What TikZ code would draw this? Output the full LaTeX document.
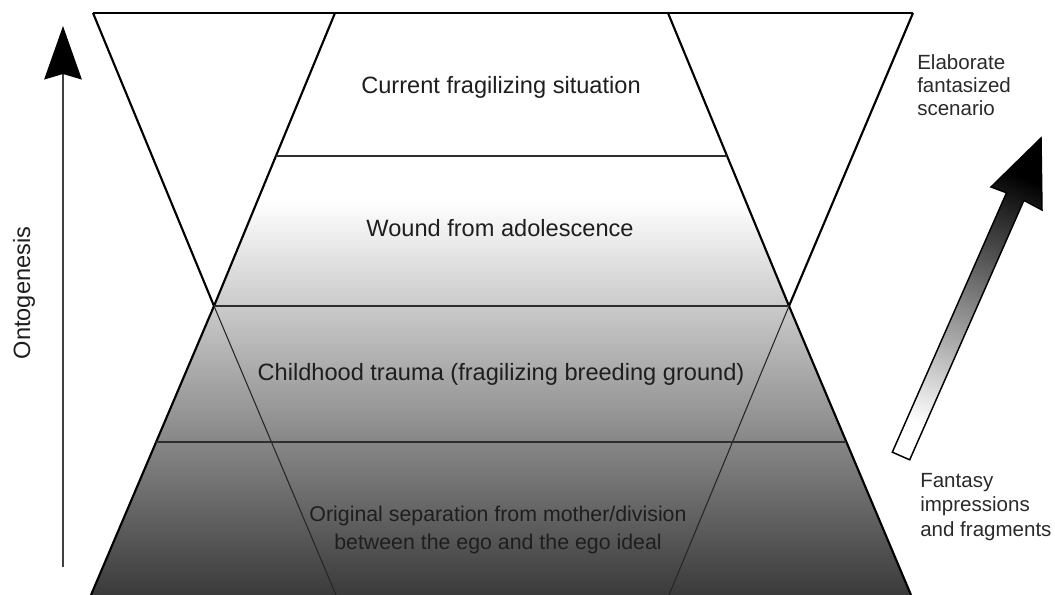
\documentclass[tikz,border=0pt]{standalone}
\usepackage{fontspec}
\setmainfont{Liberation Sans}
\usetikzlibrary{arrows.meta,calc}
\definecolor{linegray}{HTML}{2E2E2E}
\definecolor{shadedark}{HTML}{3A3A3A}
\definecolor{txt}{HTML}{1E1E1E}
\definecolor{sidetxt}{HTML}{2A2A2A}
\begin{document}
\begin{tikzpicture}[x=0.75pt,y=-0.75pt,
  outline/.style={line width=1.6pt, draw=black, line join=round},
  levelline/.style={line width=2.1pt, draw=linegray},
  thinline/.style={line width=0.8pt, draw=black!85},
  mainlabel/.style={text=txt, inner sep=0pt, font=\fontsize{17.7pt}{21pt}\selectfont},
  sublabel/.style={text=txt, inner sep=0pt, align=center, font=\fontsize{16pt}{21pt}\selectfont},
  sidelabel/.style={text=sidetxt, inner sep=0pt, anchor=west, align=left}
]
\useasboundingbox (0,0) rectangle (1055,595);
% frame points
\coordinate (A) at (93,13);
\coordinate (B) at (335,13);
\coordinate (C) at (668,13);
\coordinate (D) at (913,13);
\coordinate (P) at (214,306);
\coordinate (Q) at (789,306);
\coordinate (E) at (91,595);
\coordinate (F) at (336,595);
\coordinate (G) at (669,595);
\coordinate (H) at (911,595);
\coordinate (X1) at ($(B)!0.4881!(P)$);
\coordinate (X2) at ($(C)!0.4881!(Q)$);
\coordinate (Y1) at ($(P)!0.4706!(E)$);
\coordinate (Y2) at ($(Q)!0.4706!(H)$);
% shading of the layers
\begin{scope}
  \clip (X1) -- (X2) -- (Q) -- (H) -- (E) -- (P) -- cycle;
  \shade[top color=white, bottom color=shadedark] (80,200) rectangle (930,596);
\end{scope}
% lines
\draw[outline] (A) -- (D);
\draw[outline] (A) -- (P) -- (B);
\draw[outline] (D) -- (Q) -- (C);
\draw[outline] (P) -- (E);
\draw[outline] (Q) -- (H);
\draw[thinline] (P) -- (F);
\draw[thinline] (Q) -- (G);
\draw[levelline] (X1) -- (X2);
\draw[levelline] (P) -- (Q);
\draw[levelline] (Y1) -- (Y2);
% labels
\node[mainlabel] (cur) at (501,87) {Current fragilizing situation};
\node[mainlabel] (wound) at (500,228) {Wound from adolescence};
\node[mainlabel] (child) at (501,374) {Childhood trauma (fragilizing breeding ground)};
\node[sublabel] (orig) at (498,530) {Original separation from mother/division\\between the ego and the ego ideal};
\node[sidelabel, font=\fontsize{15.4pt}{17.3pt}\selectfont] (elab) at (917,85) {Elaborate\\fantasized\\scenario};
\node[sidelabel, font=\fontsize{15.4pt}{18.4pt}\selectfont] (fant) at (920,507) {Fantasy\\impressions\\and fragments};
\node[mainlabel, rotate=90] (onto) at (24,293) {Ontogenesis};
% ontogenesis arrow
\coordinate (o1) at (63,567);
\coordinate (o2) at (63,26);
\draw[line width=2.2pt, draw=black!75, -{Stealth[length=40pt, width=28pt, inset=4pt, color=black]}] (o1) -- (o2);
% gradient arrow
\coordinate (t1) at (892.3,452.2);
\coordinate (t2) at (909.7,459.8);
\coordinate (s1) at (1006.5,192.8);
\coordinate (s2) at (1023.9,200.4);
\coordinate (b1) at (991,187);
\coordinate (b2) at (1042,210);
\coordinate (tip) at (1041,138);
\shade[draw=black, line width=1.1pt, line join=miter, top color=black, bottom color=white, shading angle=-23.8]
  (t1) -- (s1) -- (b1) -- (tip) -- (b2) -- (s2) -- (t2) -- cycle;
\end{tikzpicture}
\end{document}
